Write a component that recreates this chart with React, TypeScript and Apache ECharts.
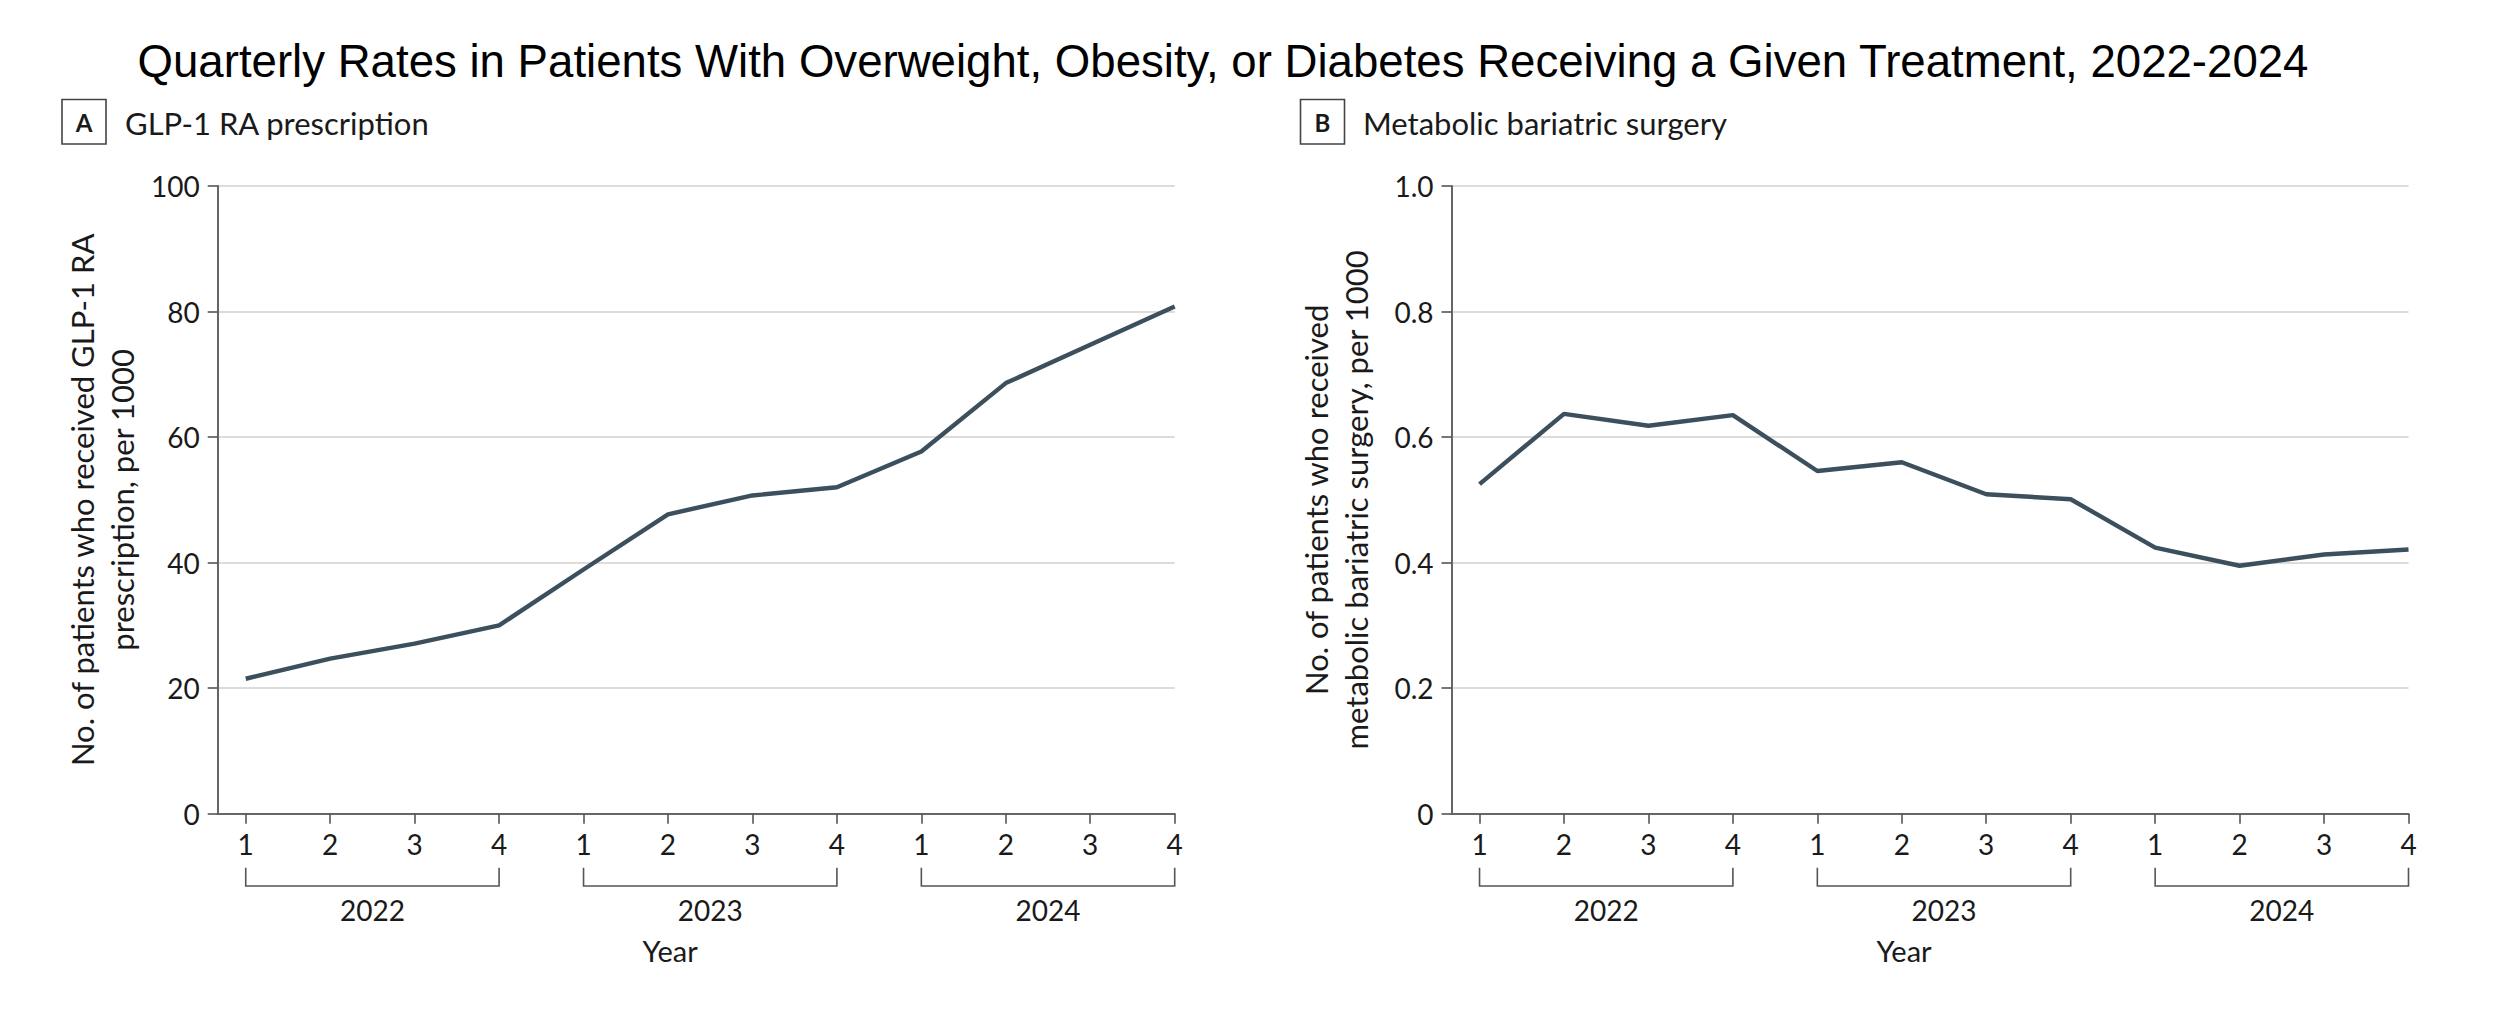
import React, { useEffect, useRef } from "react";
import * as echarts from "echarts";

const quarterPositions = [1, 2, 3, 4, 5, 6, 7, 8, 9, 10, 11, 12];
const quarterLabels = ["1", "2", "3", "4", "1", "2", "3", "4", "1", "2", "3", "4"];
const years = ["2022", "2023", "2024"];
const yearSpans = [
  [1, 4],
  [5, 8],
  [9, 12],
];
const glp1Rates = [21.5, 24.7, 27.1, 30.0, 38.9, 47.7, 50.7, 52.0, 57.7, 68.6, 74.7, 80.8];
const surgeryRates = [0.525, 0.637, 0.618, 0.635, 0.546, 0.56, 0.509, 0.501, 0.424, 0.395, 0.413, 0.421];
const glp1Ticks = [0, 20, 40, 60, 80, 100];
const surgeryTicks = [0, 0.2, 0.4, 0.6, 0.8, 1.0];

const FONT = "Lato";
const TEXT = "#1a1a1a";
const AXIS = "#666666";
const LINE = "#3c4f5d";

function xAxisFor(gridIndex: number) {
  return {
    type: "value",
    gridIndex,
    min: 0.668,
    max: 12,
    axisLine: { show: true, onZero: false, lineStyle: { color: AXIS, width: 2 } },
    axisTick: {
      show: true,
      customValues: quarterPositions,
      length: 10,
      lineStyle: { color: "#555", width: 1.6 },
    },
    axisLabel: {
      customValues: quarterPositions,
      formatter: (v: number) => quarterLabels[quarterPositions.indexOf(Math.round(v))] ?? "",
      fontFamily: FONT,
      fontSize: 28,
      color: TEXT,
      margin: 16,
    },
    splitLine: { show: false },
    name: "Year",
    nameLocation: "middle",
    nameGap: 122,
    nameTextStyle: { fontFamily: FONT, fontSize: 29, color: TEXT, padding: [0, 52, 0, 0] },
  };
}

function yAxisFor(gridIndex: number, ticks: number[], name: string, fmt: (v: number) => string) {
  return {
    type: "value",
    gridIndex,
    min: ticks[0],
    max: ticks[ticks.length - 1],
    interval: ticks[1] - ticks[0],
    axisLine: { show: true, lineStyle: { color: AXIS, width: 2 } },
    axisTick: { show: true, length: 10, lineStyle: { color: "#555", width: 1.6 } },
    axisLabel: { formatter: fmt, fontFamily: FONT, fontSize: 28, color: TEXT, margin: 18 },
    splitLine: { show: true, lineStyle: { color: "#dcdcdc", width: 2 } },
    name,
    nameLocation: "middle",
    nameRotate: 90,
    nameGap: 76,
    nameTextStyle: { fontFamily: FONT, fontSize: 31, color: TEXT, lineHeight: 40, align: "center" },
  };
}

function bracketSeries(idx: number) {
  return {
    type: "custom",
    xAxisIndex: idx,
    yAxisIndex: idx,
    clip: false,
    silent: true,
    encode: { x: [0, 1], y: 2 },
    data: yearSpans.map((s) => [s[0], s[1], 0]),
    renderItem: (params: any, api: any) => {
      const p1 = api.coord([api.value(0), 0]);
      const p2 = api.coord([api.value(1), 0]);
      const top = p1[1] + 54;
      const bot = p1[1] + 72.3;
      return {
        type: "group",
        children: [
          {
            type: "polyline",
            shape: { points: [[p1[0], top], [p1[0], bot], [p2[0], bot], [p2[0], top]] },
            style: { stroke: "#555", lineWidth: 1.6, fill: null },
          },
          {
            type: "text",
            x: (p1[0] + p2[0]) / 2,
            y: p1[1] + 96,
            style: {
              text: years[params.dataIndex],
              fontFamily: FONT,
              fontSize: 28,
              fill: TEXT,
              align: "center",
              verticalAlign: "middle",
            },
          },
        ],
      };
    },
  };
}

function panelHeader(letter: string, title: string, boxX: number, textX: number) {
  return [
    {
      type: "rect",
      shape: { x: boxX, y: 99.5, width: 44, height: 44.5 },
      style: { fill: "#fff", stroke: "#444", lineWidth: 1.6 },
    },
    {
      type: "text",
      x: boxX + 22,
      y: 122,
      style: {
        text: letter,
        fontFamily: FONT,
        fontWeight: "bold",
        fontSize: 24,
        fill: TEXT,
        align: "center",
        verticalAlign: "middle",
      },
    },
    {
      type: "text",
      x: textX,
      y: 123,
      style: {
        text: title,
        fontFamily: FONT,
        fontSize: 31,
        fill: TEXT,
        align: "left",
        verticalAlign: "middle",
      },
    },
  ];
}

export default function App() {
  const ref = useRef<HTMLDivElement>(null);
  useEffect(() => {
    if (!ref.current) return;
    const chart = echarts.init(ref.current, null, { renderer: "svg" });
    const data1 = quarterPositions.map((q, i) => [q, glp1Rates[i]]);
    const data2 = quarterPositions.map((q, i) => [q, surgeryRates[i]]);
    chart.setOption({
      animation: false,
      backgroundColor: "#ffffff",
      title: {
        text: "Quarterly Rates in Patients With Overweight, Obesity, or Diabetes Receiving a Given Treatment, 2022-2024",
        left: 1223,
        textAlign: "center",
        top: 38,
        padding: 0,
        textStyle: { fontFamily: "Liberation Sans", fontSize: 45.6, fontWeight: "normal", color: "#000" },
      },
      grid: [
        { left: 217.7, top: 186, width: 957, height: 627.7, containLabel: false },
        { left: 1451.5, top: 186, width: 957, height: 627.7, containLabel: false },
      ],
      xAxis: [xAxisFor(0), xAxisFor(1)],
      yAxis: [
        yAxisFor(0, glp1Ticks, "No. of patients who received GLP-1 RA\nprescription, per 1000", (v) => String(v)),
        yAxisFor(1, surgeryTicks, "No. of patients who received\nmetabolic bariatric surgery, per 1000", (v) =>
          v === 0 ? "0" : v.toFixed(1)
        ),
      ],
      series: [
        {
          type: "line",
          xAxisIndex: 0,
          yAxisIndex: 0,
          data: data1,
          showSymbol: false,
          symbol: "none",
          lineStyle: { color: LINE, width: 4.4 },
        },
        {
          type: "line",
          xAxisIndex: 1,
          yAxisIndex: 1,
          data: data2,
          showSymbol: false,
          symbol: "none",
          lineStyle: { color: LINE, width: 4.4 },
        },
        bracketSeries(0),
        bracketSeries(1),
      ],
      graphic: [...panelHeader("A", "GLP-1 RA prescription", 62, 125), ...panelHeader("B", "Metabolic bariatric surgery", 1300.5, 1363)],
    });
    return () => chart.dispose();
  }, []);
  return <div ref={ref} style={{ position: "absolute", left: 0, top: 0, width: 2500, height: 1010 }} />;
}
